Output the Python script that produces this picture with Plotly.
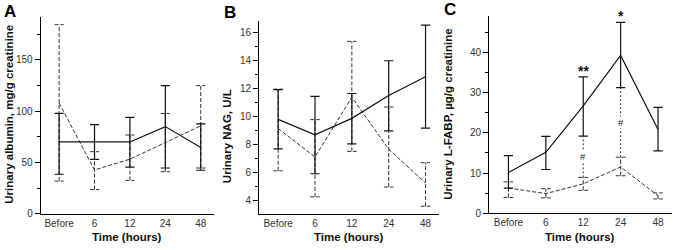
import plotly.graph_objects as go

# ---------------- data ----------------
time_labels = ["Before", "6", "12", "24", "48"]

# Panel A: urinary albumin (mg/g creatinine)
alb_solid_mean = [70, 70, 70, 85, 64.6]
alb_solid_hi = [97.8, 87, 94, 125, 87.6]
alb_solid_lo = [38.5, 53, 45.5, 44.6, 42.4]
alb_dash_mean = [108, 42.7, 53.2, 69.7, 85.7]
alb_dash_hi = [184.4, 60.5, 76.8, 97.8, 125]
alb_dash_lo = [31.8, 23.6, 32.5, 41, 44.6]

# Panel B: urinary NAG (U/L)
nag_solid_mean = [9.79, 8.68, 9.86, 11.5, 12.83]
nag_solid_hi = [11.92, 11.44, 11.64, 13.98, 16.53]
nag_solid_lo = [7.68, 5.90, 8.03, 8.96, 9.17]
nag_dash_mean = [9.14, 7.1, 11.37, 7.66, 5.23]
nag_dash_hi = [11.95, 9.77, 15.37, 10.67, 6.69]
nag_dash_lo = [6.11, 4.25, 7.5, 4.95, 3.58]

# Panel C: urinary L-FABP (ug/g creatinine)
fabp_solid_mean = [10.16, 15.16, 26.7, 39.2, 20.8]
fabp_solid_hi = [14.35, 19.1, 33.9, 47.4, 26.3]
fabp_solid_lo = [6.29, 10.9, 19.2, 31.2, 15.5]
fabp_dash_mean = [6.29, 4.92, 7.34, 11.53, 4.4]
fabp_dash_hi = [7.82, 6.13, 8.95, 13.95, 5.1]
fabp_dash_lo = [3.95, 3.87, 5.73, 9.35, 3.6]
fabp_stars = ["", "", "**", "*", ""]
fabp_hash = ["", "", "#", "#", ""]

# ---------------- styling ----------------
W, H = 674, 250
FONT = "Liberation Sans"
SOLID = "#111111"
DASHC = "#333333"
DASH = "4px,2px"
CAP = 0.13  # cap half-width in category units
XR = [-0.52, 4.36]

def px(xp):
    return xp / W

def py(yp):
    return 1 - yp / H

panels = [
    dict(name="A", xd=[40.7, 213.5], yd=[17.3, 219.0], yr=[0, 192], dtick=50, minor=25, tick0=0,
         s=(alb_solid_mean, alb_solid_hi, alb_solid_lo), d=(alb_dash_mean, alb_dash_hi, alb_dash_lo),
         ytitle="Urinary albumin, mg/g creatinine", yt=(9, 117.5), letter=(2, 12)),
    dict(name="B", xd=[259, 438.8], yd=[21.7, 219.3], yr=[3.02, 16.81], dtick=2, minor=1, tick0=0,
         s=(nag_solid_mean, nag_solid_hi, nag_solid_lo), d=(nag_dash_mean, nag_dash_hi, nag_dash_lo),
         ytitle="Urinary NAG, U/L", yt=(227, 139.5), letter=(221.5, 12.5)),
    dict(name="C", xd=[489, 671.5], yd=[16.7, 218.7], yr=[0, 48.9], dtick=10, minor=5, tick0=0,
         s=(fabp_solid_mean, fabp_solid_hi, fabp_solid_lo), d=(fabp_dash_mean, fabp_dash_hi, fabp_dash_lo),
         ytitle="Urinary L-FABP, µg/g creatinine", yt=(448, 117.5), letter=(441.5, 9.5)),
]

fig = go.Figure()
xs = list(range(len(time_labels)))
annotations = []

for k, p in enumerate(panels):
    ax = "" if k == 0 else str(k + 1)
    xref, yref = "x" + ax, "y" + ax
    sm, sh, sl = p["s"]
    dm, dh, dl = p["d"]

    # dashed series: error bars drawn as dashed segments
    ex, ey = [], []
    for i in xs:
        ex += [i, i, None, i - CAP, i + CAP, None, i - CAP, i + CAP, None]
        ey += [dl[i], dh[i], None, dh[i], dh[i], None, dl[i], dl[i], None]
    fig.add_trace(go.Scatter(x=ex, y=ey, mode="lines", xaxis=xref, yaxis=yref,
                             line=dict(color=DASHC, width=1, dash=DASH), showlegend=False,
                             cliponaxis=False))
    fig.add_trace(go.Scatter(x=xs, y=dm, mode="lines", xaxis=xref, yaxis=yref,
                             line=dict(color=DASHC, width=1, dash=DASH), showlegend=False,
                             cliponaxis=False))

    # solid series with native error bars
    fig.add_trace(go.Scatter(
        x=xs, y=sm, mode="lines", xaxis=xref, yaxis=yref,
        line=dict(color=SOLID, width=1.2), showlegend=False, cliponaxis=False,
        error_y=dict(type="data", symmetric=False,
                     array=[h - m for h, m in zip(sh, sm)],
                     arrayminus=[m - l for m, l in zip(sm, sl)],
                     color=SOLID, thickness=1.2, width=4.6)))

    # axes
    fig.update_layout(**{
        "xaxis" + ax: dict(domain=[px(p["xd"][0]), px(p["xd"][1])], range=XR,
                           tickvals=xs, ticktext=time_labels, ticks="",
                           showline=True, linecolor="#000", linewidth=1,
                           showgrid=False, zeroline=False, anchor=yref,
                           tickfont=dict(family=FONT, size=10, color="#333")),
        "yaxis" + ax: dict(domain=[py(p["yd"][1]), py(p["yd"][0])], range=p["yr"],
                           dtick=p["dtick"], tick0=p["tick0"], ticks="outside", ticklen=5,
                           tickwidth=1, tickcolor="#000",
                           minor=dict(dtick=p["minor"], ticks="outside", ticklen=3,
                                      tickcolor="#000", tickwidth=1, showgrid=False),
                           showline=True, linecolor="#000", linewidth=1,
                           showgrid=False, zeroline=False, anchor=xref,
                           tickfont=dict(family=FONT, size=10, color="#333")),
    })

    # titles and letters
    annotations.append(dict(x=px(p["yt"][0]), y=py(p["yt"][1]), xref="paper", yref="paper",
                            text=p["ytitle"], textangle=-90, showarrow=False,
                            xanchor="center", yanchor="middle",
                            font=dict(family=FONT, size=11.5, color="#111", weight="bold")))
    annotations.append(dict(x=px((p["xd"][0] + p["xd"][1]) / 2), y=py(243), xref="paper", yref="paper",
                            text="Time (hours)", showarrow=False, xanchor="center", yanchor="middle",
                            font=dict(family=FONT, size=11.5, color="#111", weight="bold")))
    annotations.append(dict(x=px(p["letter"][0]), y=py(p["letter"][1]), xref="paper", yref="paper",
                            text=p["name"], showarrow=False, xanchor="left", yanchor="middle",
                            font=dict(family=FONT, size=17, color="#000", weight="bold")))

# Panel C significance marks
for i in xs:
    if fabp_hash[i]:
        fig.add_trace(go.Scatter(x=[i, i], y=[fabp_dash_hi[i], fabp_solid_lo[i]], mode="lines",
                                 xaxis="x3", yaxis="y3", showlegend=False,
                                 line=dict(color=DASHC, width=1, dash="2px,2px")))
        annotations.append(dict(x=i, y=(fabp_dash_hi[i] + fabp_solid_lo[i]) / 2, xref="x3", yref="y3",
                                text=fabp_hash[i], showarrow=False, bgcolor="white",
                                borderpad=0, xanchor="center", yanchor="middle",
                                font=dict(family=FONT, size=9.5, color="#222")))
    if fabp_stars[i]:
        annotations.append(dict(x=i, y=fabp_solid_hi[i], xref="x3", yref="y3",
                                text=fabp_stars[i], showarrow=False,
                                xanchor="center", yanchor="bottom", yshift=-4,
                                font=dict(family=FONT, size=14, color="#111", weight="bold")))

fig.update_layout(width=W, height=H, margin=dict(l=0, r=0, t=0, b=0),
                  paper_bgcolor="white", plot_bgcolor="white",
                  annotations=annotations, showlegend=False)

fig.write_html("out.html", config={"displayModeBar": False},
               post_script="document.body.style.margin='0';document.body.style.padding='0';")
